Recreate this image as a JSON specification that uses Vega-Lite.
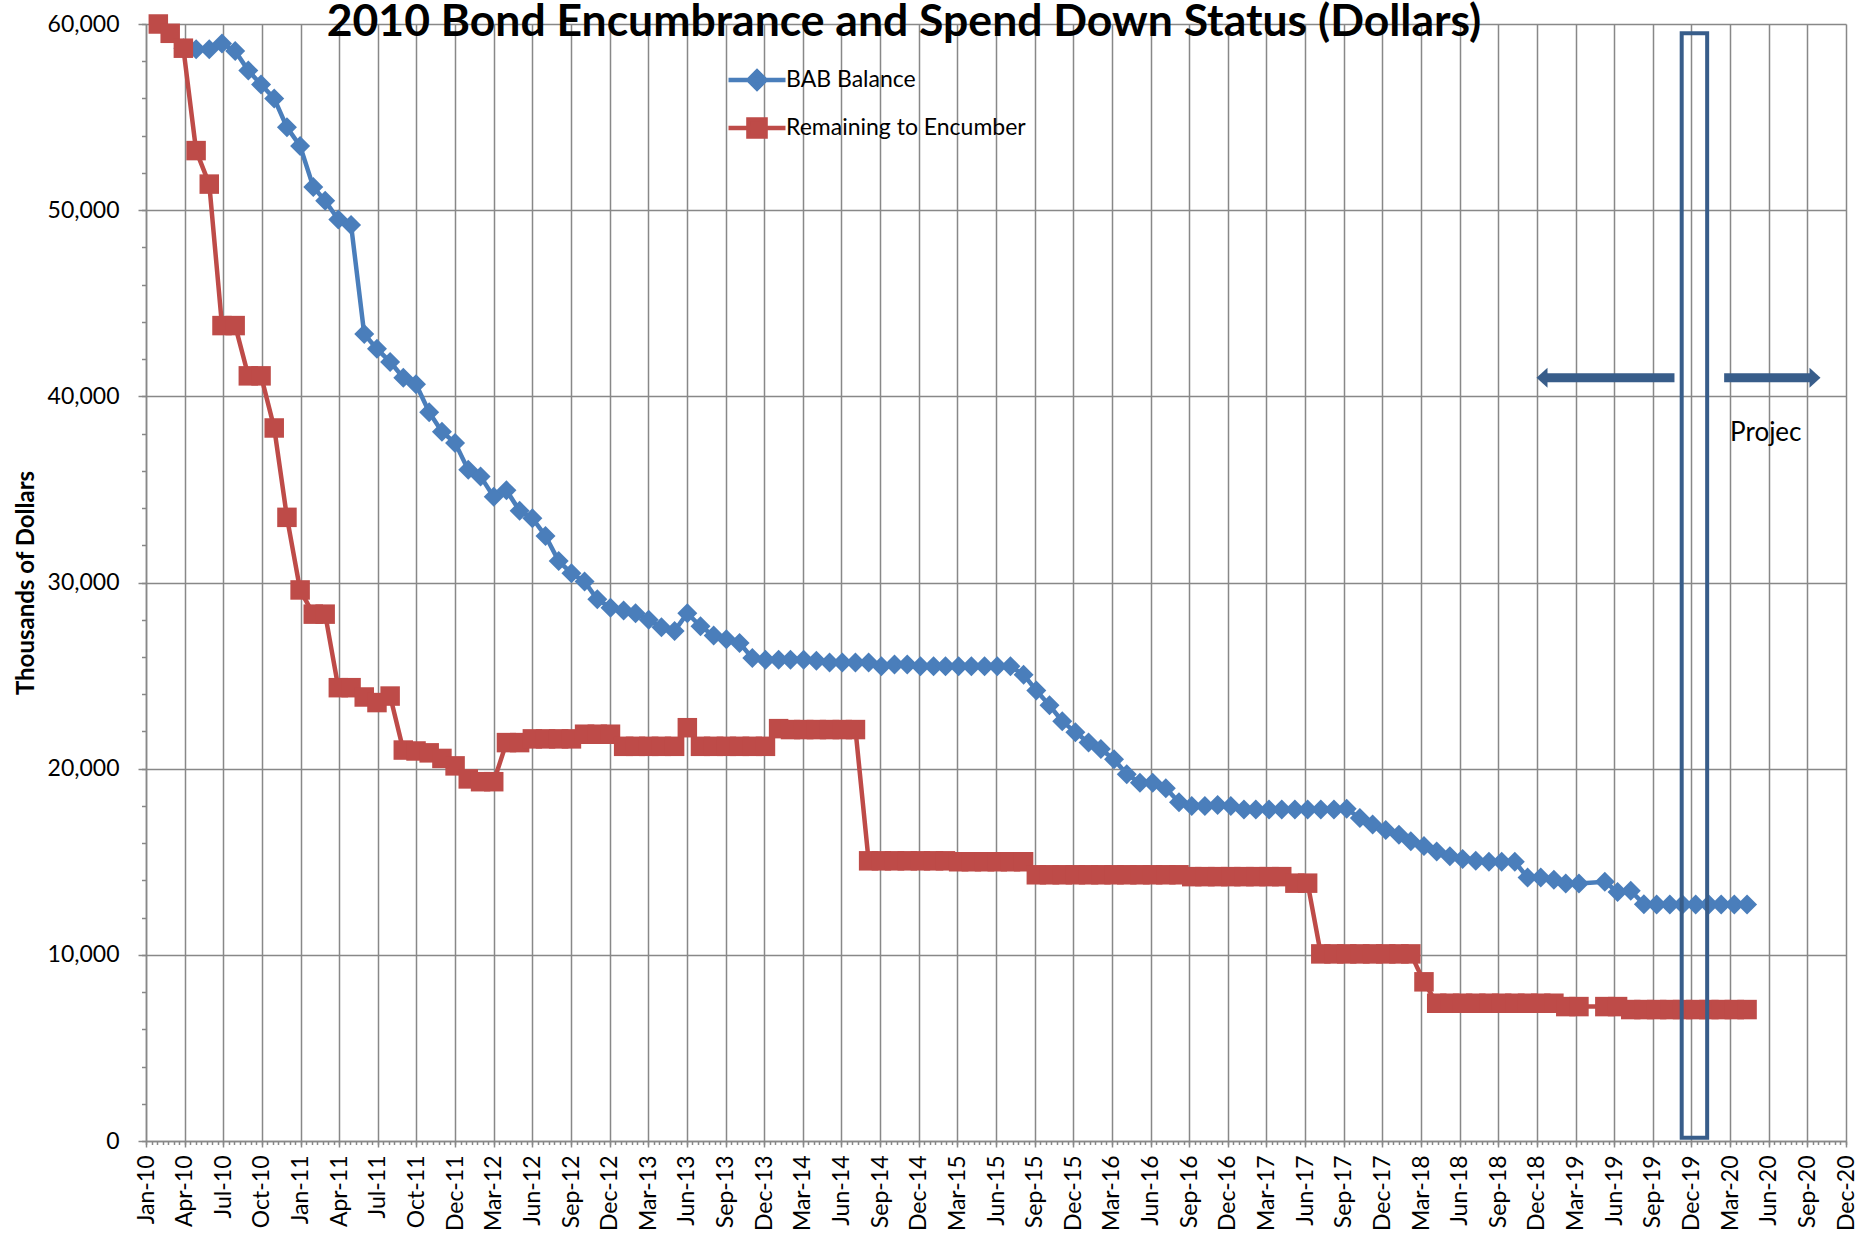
{
  "$schema": "https://vega.github.io/schema/vega-lite/v6.json",
  "width": 1700,
  "height": 1117,
  "autosize": {"type": "none"},
  "padding": {"left": 146, "top": 24, "right": 24, "bottom": 102},
  "background": "white",
  "title": {
    "text": "2010 Bond Encumbrance and Spend Down Status (Dollars)",
    "font": "Lato", "fontSize": 44.5, "fontWeight": "bold", "color": "black",
    "anchor": "middle", "orient": "top", "frame": "group", "offset": -18, "dx": -92, "dy": 49, "baseline": "alphabetic"
  },
  "config": {
    "view": {"stroke": null},
    "font": "Lato",
    "legend": {
      "title": null, "orient": "none", "legendX": 580, "legendY": 41,
      "symbolSize": 3249, "symbolStrokeWidth": 4.5, "symbolOpacity": 1,
      "labelFont": "Lato", "labelFontSize": 23, "labelColor": "black", "labelOffset": -2, "labelLimit": 500,
      "rowPadding": 18, "clipHeight": 30, "padding": 0, "direction": "vertical"
    }
  },
  "data": {"values": [
    {"date": "2010-01-31", "BAB Balance": null, "Remaining to Encumber": 60000},
    {"date": "2010-02-28", "BAB Balance": null, "Remaining to Encumber": 59500},
    {"date": "2010-03-31", "BAB Balance": 58700, "Remaining to Encumber": 58700},
    {"date": "2010-04-30", "BAB Balance": 58650, "Remaining to Encumber": 53200},
    {"date": "2010-05-31", "BAB Balance": 58650, "Remaining to Encumber": 51400},
    {"date": "2010-06-30", "BAB Balance": 58950, "Remaining to Encumber": 43800},
    {"date": "2010-07-31", "BAB Balance": 58550, "Remaining to Encumber": 43800},
    {"date": "2010-08-31", "BAB Balance": 57500, "Remaining to Encumber": 41100},
    {"date": "2010-09-30", "BAB Balance": 56750, "Remaining to Encumber": 41100},
    {"date": "2010-10-31", "BAB Balance": 56000, "Remaining to Encumber": 38300},
    {"date": "2010-11-30", "BAB Balance": 54450, "Remaining to Encumber": 33500},
    {"date": "2010-12-31", "BAB Balance": 53450, "Remaining to Encumber": 29600},
    {"date": "2011-01-31", "BAB Balance": 51250, "Remaining to Encumber": 28300},
    {"date": "2011-02-28", "BAB Balance": 50500, "Remaining to Encumber": 28300},
    {"date": "2011-03-31", "BAB Balance": 49500, "Remaining to Encumber": 24350},
    {"date": "2011-04-30", "BAB Balance": 49200, "Remaining to Encumber": 24350},
    {"date": "2011-05-31", "BAB Balance": 43350, "Remaining to Encumber": 23850},
    {"date": "2011-06-30", "BAB Balance": 42550, "Remaining to Encumber": 23550},
    {"date": "2011-07-31", "BAB Balance": 41850, "Remaining to Encumber": 23900},
    {"date": "2011-08-31", "BAB Balance": 41000, "Remaining to Encumber": 21000},
    {"date": "2011-09-30", "BAB Balance": 40650, "Remaining to Encumber": 20950},
    {"date": "2011-10-31", "BAB Balance": 39150, "Remaining to Encumber": 20850},
    {"date": "2011-11-30", "BAB Balance": 38100, "Remaining to Encumber": 20550},
    {"date": "2011-12-31", "BAB Balance": 37500, "Remaining to Encumber": 20150},
    {"date": "2012-01-31", "BAB Balance": 36050, "Remaining to Encumber": 19450},
    {"date": "2012-02-29", "BAB Balance": 35700, "Remaining to Encumber": 19300},
    {"date": "2012-03-31", "BAB Balance": 34600, "Remaining to Encumber": 19300},
    {"date": "2012-04-30", "BAB Balance": 34950, "Remaining to Encumber": 21400},
    {"date": "2012-05-31", "BAB Balance": 33850, "Remaining to Encumber": 21400},
    {"date": "2012-06-30", "BAB Balance": 33450, "Remaining to Encumber": 21600},
    {"date": "2012-07-31", "BAB Balance": 32500, "Remaining to Encumber": 21600},
    {"date": "2012-08-31", "BAB Balance": 31150, "Remaining to Encumber": 21600},
    {"date": "2012-09-30", "BAB Balance": 30500, "Remaining to Encumber": 21600},
    {"date": "2012-10-31", "BAB Balance": 30050, "Remaining to Encumber": 21850},
    {"date": "2012-11-30", "BAB Balance": 29100, "Remaining to Encumber": 21850},
    {"date": "2012-12-31", "BAB Balance": 28650, "Remaining to Encumber": 21850},
    {"date": "2013-01-31", "BAB Balance": 28500, "Remaining to Encumber": 21200},
    {"date": "2013-02-28", "BAB Balance": 28350, "Remaining to Encumber": 21200},
    {"date": "2013-03-31", "BAB Balance": 28000, "Remaining to Encumber": 21200},
    {"date": "2013-04-30", "BAB Balance": 27600, "Remaining to Encumber": 21200},
    {"date": "2013-05-31", "BAB Balance": 27400, "Remaining to Encumber": 21200},
    {"date": "2013-06-30", "BAB Balance": 28350, "Remaining to Encumber": 22200},
    {"date": "2013-07-31", "BAB Balance": 27650, "Remaining to Encumber": 21200},
    {"date": "2013-08-31", "BAB Balance": 27150, "Remaining to Encumber": 21200},
    {"date": "2013-09-30", "BAB Balance": 26950, "Remaining to Encumber": 21200},
    {"date": "2013-10-31", "BAB Balance": 26750, "Remaining to Encumber": 21200},
    {"date": "2013-11-30", "BAB Balance": 25950, "Remaining to Encumber": 21200},
    {"date": "2013-12-31", "BAB Balance": 25850, "Remaining to Encumber": 21200},
    {"date": "2014-01-31", "BAB Balance": 25850, "Remaining to Encumber": 22150},
    {"date": "2014-02-28", "BAB Balance": 25850, "Remaining to Encumber": 22100},
    {"date": "2014-03-31", "BAB Balance": 25850, "Remaining to Encumber": 22100},
    {"date": "2014-04-30", "BAB Balance": 25800, "Remaining to Encumber": 22100},
    {"date": "2014-05-31", "BAB Balance": 25700, "Remaining to Encumber": 22100},
    {"date": "2014-06-30", "BAB Balance": 25700, "Remaining to Encumber": 22100},
    {"date": "2014-07-31", "BAB Balance": 25700, "Remaining to Encumber": 22100},
    {"date": "2014-08-31", "BAB Balance": 25700, "Remaining to Encumber": 15050},
    {"date": "2014-09-30", "BAB Balance": 25500, "Remaining to Encumber": 15050},
    {"date": "2014-10-31", "BAB Balance": 25600, "Remaining to Encumber": 15050},
    {"date": "2014-11-30", "BAB Balance": 25600, "Remaining to Encumber": 15050},
    {"date": "2014-12-31", "BAB Balance": 25500, "Remaining to Encumber": 15050},
    {"date": "2015-01-31", "BAB Balance": 25500, "Remaining to Encumber": 15050},
    {"date": "2015-02-28", "BAB Balance": 25500, "Remaining to Encumber": 15050},
    {"date": "2015-03-31", "BAB Balance": 25500, "Remaining to Encumber": 15000},
    {"date": "2015-04-30", "BAB Balance": 25500, "Remaining to Encumber": 15000},
    {"date": "2015-05-31", "BAB Balance": 25500, "Remaining to Encumber": 15000},
    {"date": "2015-06-30", "BAB Balance": 25500, "Remaining to Encumber": 15000},
    {"date": "2015-07-31", "BAB Balance": 25500, "Remaining to Encumber": 15000},
    {"date": "2015-08-31", "BAB Balance": 25050, "Remaining to Encumber": 15000},
    {"date": "2015-09-30", "BAB Balance": 24200, "Remaining to Encumber": 14300},
    {"date": "2015-10-31", "BAB Balance": 23400, "Remaining to Encumber": 14300},
    {"date": "2015-11-30", "BAB Balance": 22550, "Remaining to Encumber": 14300},
    {"date": "2015-12-31", "BAB Balance": 21950, "Remaining to Encumber": 14300},
    {"date": "2016-01-31", "BAB Balance": 21400, "Remaining to Encumber": 14300},
    {"date": "2016-02-29", "BAB Balance": 21050, "Remaining to Encumber": 14300},
    {"date": "2016-03-31", "BAB Balance": 20500, "Remaining to Encumber": 14300},
    {"date": "2016-04-30", "BAB Balance": 19700, "Remaining to Encumber": 14300},
    {"date": "2016-05-31", "BAB Balance": 19250, "Remaining to Encumber": 14300},
    {"date": "2016-06-30", "BAB Balance": 19250, "Remaining to Encumber": 14300},
    {"date": "2016-07-31", "BAB Balance": 18950, "Remaining to Encumber": 14300},
    {"date": "2016-08-31", "BAB Balance": 18200, "Remaining to Encumber": 14300},
    {"date": "2016-09-30", "BAB Balance": 18000, "Remaining to Encumber": 14200},
    {"date": "2016-10-31", "BAB Balance": 18000, "Remaining to Encumber": 14200},
    {"date": "2016-11-30", "BAB Balance": 18050, "Remaining to Encumber": 14200},
    {"date": "2016-12-31", "BAB Balance": 18000, "Remaining to Encumber": 14200},
    {"date": "2017-01-31", "BAB Balance": 17800, "Remaining to Encumber": 14200},
    {"date": "2017-02-28", "BAB Balance": 17800, "Remaining to Encumber": 14200},
    {"date": "2017-03-31", "BAB Balance": 17800, "Remaining to Encumber": 14200},
    {"date": "2017-04-30", "BAB Balance": 17800, "Remaining to Encumber": 14200},
    {"date": "2017-05-31", "BAB Balance": 17800, "Remaining to Encumber": 13850},
    {"date": "2017-06-30", "BAB Balance": 17800, "Remaining to Encumber": 13850},
    {"date": "2017-07-31", "BAB Balance": 17800, "Remaining to Encumber": 10050},
    {"date": "2017-08-31", "BAB Balance": 17800, "Remaining to Encumber": 10050},
    {"date": "2017-09-30", "BAB Balance": 17850, "Remaining to Encumber": 10050},
    {"date": "2017-10-31", "BAB Balance": 17350, "Remaining to Encumber": 10050},
    {"date": "2017-11-30", "BAB Balance": 17000, "Remaining to Encumber": 10050},
    {"date": "2017-12-31", "BAB Balance": 16700, "Remaining to Encumber": 10050},
    {"date": "2018-01-31", "BAB Balance": 16450, "Remaining to Encumber": 10050},
    {"date": "2018-02-28", "BAB Balance": 16100, "Remaining to Encumber": 10050},
    {"date": "2018-03-31", "BAB Balance": 15850, "Remaining to Encumber": 8550},
    {"date": "2018-04-30", "BAB Balance": 15550, "Remaining to Encumber": 7400},
    {"date": "2018-05-31", "BAB Balance": 15300, "Remaining to Encumber": 7400},
    {"date": "2018-06-30", "BAB Balance": 15150, "Remaining to Encumber": 7400},
    {"date": "2018-07-31", "BAB Balance": 15050, "Remaining to Encumber": 7400},
    {"date": "2018-08-31", "BAB Balance": 15000, "Remaining to Encumber": 7400},
    {"date": "2018-09-30", "BAB Balance": 15000, "Remaining to Encumber": 7400},
    {"date": "2018-10-31", "BAB Balance": 15000, "Remaining to Encumber": 7400},
    {"date": "2018-11-30", "BAB Balance": 14150, "Remaining to Encumber": 7400},
    {"date": "2018-12-31", "BAB Balance": 14150, "Remaining to Encumber": 7400},
    {"date": "2019-01-31", "BAB Balance": 14030, "Remaining to Encumber": 7400},
    {"date": "2019-02-28", "BAB Balance": 13830, "Remaining to Encumber": 7220},
    {"date": "2019-03-31", "BAB Balance": 13830, "Remaining to Encumber": 7220},
    {"date": "2019-05-31", "BAB Balance": 13920, "Remaining to Encumber": 7220},
    {"date": "2019-06-30", "BAB Balance": 13380, "Remaining to Encumber": 7220},
    {"date": "2019-07-31", "BAB Balance": 13440, "Remaining to Encumber": 7060},
    {"date": "2019-08-31", "BAB Balance": 12720, "Remaining to Encumber": 7060},
    {"date": "2019-09-30", "BAB Balance": 12700, "Remaining to Encumber": 7060},
    {"date": "2019-10-31", "BAB Balance": 12700, "Remaining to Encumber": 7060},
    {"date": "2019-11-30", "BAB Balance": 12700, "Remaining to Encumber": 7060},
    {"date": "2019-12-31", "BAB Balance": 12700, "Remaining to Encumber": 7060},
    {"date": "2020-01-31", "BAB Balance": 12700, "Remaining to Encumber": 7060},
    {"date": "2020-02-29", "BAB Balance": 12700, "Remaining to Encumber": 7060},
    {"date": "2020-03-31", "BAB Balance": 12700, "Remaining to Encumber": 7060},
    {"date": "2020-04-30", "BAB Balance": 12700, "Remaining to Encumber": 7060}
  ]},
  "resolve": {"axis": {"x": "independent", "y": "independent"}},
  "layer": [
    {
      "transform": [{"fold": ["BAB Balance", "Remaining to Encumber"], "as": ["series", "value"]}, {"filter": "datum.series == 'BAB Balance'"}],
      "mark": {"type": "line", "color": "#4A7EBB", "strokeWidth": 4.5},
      "encoding": {
        "x": {
          "field": "date", "type": "temporal",
          "scale": {"type": "utc", "nice": false, "domain": [{"year": 2010, "month": "jan", "date": 2, "utc": true}, {"year": 2020, "month": "dec", "date": 19, "utc": true}]},
          "axis": {
            "orient": "bottom", "title": null, "format": "%b-%y",
            "values": [1262390400000, 1270252800000, 1278115200000, 1285977600000, 1293840000000, 1301702400000, 1309564800000, 1317427200000, 1325289600000, 1333152000000, 1341014400000, 1348876800000, 1356739200000, 1364601600000, 1372464000000, 1380326400000, 1388188800000, 1396051200000, 1403913600000, 1411776000000, 1419638400000, 1427500800000, 1435363200000, 1443225600000, 1451088000000, 1458950400000, 1466812800000, 1474675200000, 1482537600000, 1490400000000, 1498262400000, 1506124800000, 1513987200000, 1521849600000, 1529712000000, 1537574400000, 1545436800000, 1553299200000, 1561161600000, 1569024000000, 1576886400000, 1584748800000, 1592611200000, 1600473600000, 1608336000000],
            "labelAngle": -90, "labelFont": "Lato", "labelFontSize": 23, "labelColor": "black", "labelPadding": 8,
            "labelOverlap": false, "labelFlush": false, "labelBound": false,
            "tickSize": 6, "tickColor": "#888888", "tickWidth": 1.5,
            "domainColor": "#888888", "domainWidth": 1.5,
            "grid": true, "gridColor": "#888888", "gridWidth": 1.5
          }
        },
        "y": {
          "field": "value", "type": "quantitative",
          "scale": {"domain": [0, 60000], "nice": false},
          "axis": {
            "orient": "left", "title": "Thousands of Dollars",
            "titleFont": "Lato", "titleFontSize": 24, "titleFontWeight": "bold", "titleColor": "black", "titlePadding": 9,
            "values": [0, 10000, 20000, 30000, 40000, 50000, 60000], "format": ",.0f",
            "labelFont": "Lato", "labelFontSize": 23, "labelColor": "black", "labelPadding": 19,
            "tickSize": 8, "tickColor": "#888888", "tickWidth": 1.5,
            "domainColor": "#888888", "domainWidth": 1.5,
            "grid": true, "gridColor": "#888888", "gridWidth": 1.5
          }
        }
      }
    },
    {
      "transform": [{"fold": ["BAB Balance", "Remaining to Encumber"], "as": ["series", "value"]}, {"filter": "datum.series == 'BAB Balance'"}],
      "mark": {"type": "point", "shape": "diamond", "filled": true, "size": 400, "color": "#4A7EBB", "opacity": 1},
      "encoding": {
        "x": {"field": "date", "type": "temporal", "axis": null},
        "y": {"field": "value", "type": "quantitative", "axis": null}
      }
    },
    {
      "transform": [{"fold": ["BAB Balance", "Remaining to Encumber"], "as": ["series", "value"]}, {"filter": "datum.series == 'Remaining to Encumber'"}],
      "mark": {"type": "line", "color": "#BE4B48", "strokeWidth": 4.5},
      "encoding": {
        "x": {"field": "date", "type": "temporal", "axis": null},
        "y": {"field": "value", "type": "quantitative", "axis": null}
      }
    },
    {
      "transform": [{"fold": ["BAB Balance", "Remaining to Encumber"], "as": ["series", "value"]}, {"filter": "datum.series == 'Remaining to Encumber'"}],
      "mark": {"type": "point", "shape": "square", "filled": true, "size": 380, "color": "#BE4B48", "opacity": 1},
      "encoding": {
        "x": {"field": "date", "type": "temporal", "axis": null},
        "y": {"field": "value", "type": "quantitative", "axis": null}
      }
    },
    {
      "transform": [{"fold": ["BAB Balance", "Remaining to Encumber"], "as": ["series", "value"]}, {"filter": "false"}],
      "mark": {"type": "point", "filled": true, "opacity": 1, "strokeWidth": 4.5},
      "encoding": {
        "x": {"field": "date", "type": "temporal",
          "axis": {"orient": "bottom", "title": null, "labels": false, "domain": false, "grid": false,
            "values": {"expr": "sequence(1262390400000, 1608336000001, 1123200000)"},
            "tickSize": 3.5, "tickColor": "#888888", "tickWidth": 1.5}},
        "y": {"field": "value", "type": "quantitative",
          "axis": {"orient": "left", "title": null, "labels": false, "domain": false, "grid": false,
            "values": [0, 2000, 4000, 6000, 8000, 10000, 12000, 14000, 16000, 18000, 20000, 22000, 24000, 26000, 28000, 30000, 32000, 34000, 36000, 38000, 40000, 42000, 44000, 46000, 48000, 50000, 52000, 54000, 56000, 58000, 60000],
            "tickSize": 4.5, "tickColor": "#888888", "tickWidth": 1.5}},
        "fill": {"field": "series", "type": "nominal",
          "scale": {"domain": ["BAB Balance", "Remaining to Encumber"], "range": ["#4A7EBB", "#BE4B48"]}},
        "stroke": {"field": "series", "type": "nominal",
          "scale": {"domain": ["BAB Balance", "Remaining to Encumber"], "range": ["#4A7EBB", "#BE4B48"]}},
        "shape": {"field": "series", "type": "nominal",
          "scale": {"domain": ["BAB Balance", "Remaining to Encumber"], "range": ["M-1,0L1,0M-0.3,0L0,-0.3L0.3,0L0,0.3Z", "M-1,0L1,0M-0.3,-0.3L0.3,-0.3L0.3,0.3L-0.3,0.3Z"]}}
      }
    },
    {
      "data": {"values": [{}]},
      "mark": {"type": "rect", "fill": "transparent", "stroke": "#385D8A", "strokeWidth": 4},
      "encoding": {
        "x": {"datum": {"year": 2019, "month": "nov", "date": 28, "utc": true}, "type": "temporal", "axis": null},
        "x2": {"datum": {"year": 2020, "month": "jan", "date": 27, "utc": true}},
        "y": {"datum": 59500, "type": "quantitative", "axis": null},
        "y2": {"datum": 170}
      }
    },
    {
      "data": {"values": [{}]},
      "mark": {"type": "rule", "stroke": "#385D8A", "strokeWidth": 9},
      "encoding": {
        "x": {"datum": {"year": 2019, "month": "jan", "date": 3, "utc": true}, "type": "temporal", "axis": null},
        "x2": {"datum": {"year": 2019, "month": "nov", "date": 11, "utc": true}},
        "y": {"datum": 41000, "type": "quantitative", "axis": null}
      }
    },
    {
      "data": {"values": [{}]},
      "mark": {"type": "point", "shape": "M-0.55,0L0.55,-1L0.55,1Z", "size": 400, "filled": true, "color": "#385D8A", "opacity": 1},
      "encoding": {
        "x": {"datum": {"year": 2019, "month": "jan", "date": 3, "utc": true}, "type": "temporal", "axis": null},
        "y": {"datum": 41000, "type": "quantitative", "axis": null}
      }
    },
    {
      "data": {"values": [{}]},
      "mark": {"type": "rule", "stroke": "#385D8A", "strokeWidth": 9},
      "encoding": {
        "x": {"datum": {"year": 2020, "month": "mar", "date": 7, "utc": true}, "type": "temporal", "axis": null},
        "x2": {"datum": {"year": 2020, "month": "oct", "date": 7, "utc": true}},
        "y": {"datum": 41000, "type": "quantitative", "axis": null}
      }
    },
    {
      "data": {"values": [{}]},
      "mark": {"type": "point", "shape": "M0.55,0L-0.55,-1L-0.55,1Z", "size": 400, "filled": true, "color": "#385D8A", "opacity": 1},
      "encoding": {
        "x": {"datum": {"year": 2020, "month": "oct", "date": 7, "utc": true}, "type": "temporal", "axis": null},
        "y": {"datum": 41000, "type": "quantitative", "axis": null}
      }
    },
    {
      "data": {"values": [{}]},
      "mark": {"type": "text", "text": "Projec", "font": "Lato", "fontSize": 26, "fontWeight": "normal", "align": "left", "baseline": "alphabetic", "color": "black"},
      "encoding": {
        "x": {"datum": {"year": 2020, "month": "mar", "date": 21, "utc": true}, "type": "temporal", "axis": null},
        "y": {"datum": 37600, "type": "quantitative", "axis": null}
      }
    }
  ]
}
